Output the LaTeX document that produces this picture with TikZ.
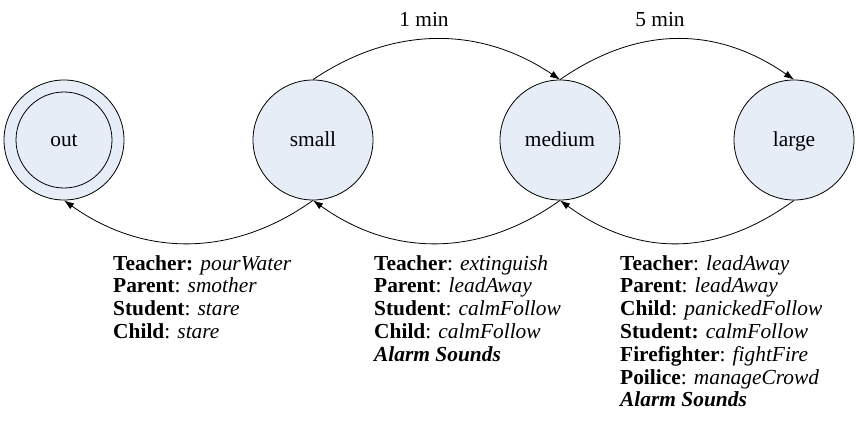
\documentclass[tikz,border=0pt]{standalone}
\usepackage{fontspec}
\setmainfont{Liberation Serif}
\usetikzlibrary{arrows.meta}
\definecolor{statefill}{RGB}{231,237,247}
\begin{document}
\begin{tikzpicture}[x=1pt,y=-1pt,
  every node/.style={font=\fontsize{21.4}{22.8}\selectfont},
  state/.style={circle,draw,line width=0.8pt,fill=statefill,minimum size=120pt,inner sep=0pt,text height=16pt,text depth=2.5pt},
  arr/.style={line width=0.8pt,-{Latex[length=10pt,width=7pt]}},
  info/.style={anchor=north west,align=left,inner sep=0pt}]
\useasboundingbox (0,0) rectangle (856,426);
\node[state] (out) at (64,140) {out};
\draw[line width=0.8pt] (out.center) circle[radius=48pt];
\node[state] (small) at (313,140) {small};
\node[state] (medium) at (560,140) {medium};
\node[state] (large) at (794,140) {large};

\draw[arr] (small.north) .. controls +(80,-54) and +(-80,-54) .. (medium.north);
\draw[arr] (medium.north) .. controls +(78,-54) and +(-78,-54) .. (large.north);
\draw[arr] (small.south) .. controls +(-80,57) and +(80,57) .. (out.south);
\draw[arr] (medium.south) .. controls +(-80,57) and +(80,57) .. (small.south);
\draw[arr] (large.south) .. controls +(-78,57) and +(78,57) .. (medium.south);

\node[anchor=base] (t1) at (424,26) {1 min};
\node[anchor=base] (t5) at (660,26) {5 min};

\node[info] (b1) at (113,255) {\textbf{Teacher:} \textit{pourWater}\\
\textbf{Parent}: \textit{smother}\\
\textbf{Student}: \textit{stare}\\
\textbf{Child}: \textit{stare}};
\node[info] (b2) at (374,255) {\textbf{Teacher}: \textit{extinguish}\\
\textbf{Parent}: \textit{leadAway}\\
\textbf{Student}: \textit{calmFollow}\\
\textbf{Child}: \textit{calmFollow}\\
\textbf{\textit{Alarm Sounds}}};
\node[info] (b3) at (620,255) {\textbf{Teacher}: \textit{leadAway}\\
\textbf{Parent}: \textit{leadAway}\\
\textbf{Child}: \textit{panickedFollow}\\
\textbf{Student:} \textit{calmFollow}\\
\textbf{Firefighter}: \textit{fightFire}\\
\textbf{Poilice}: \textit{manageCrowd}\\
\textbf{\textit{Alarm Sounds}}};
\end{tikzpicture}
\end{document}
